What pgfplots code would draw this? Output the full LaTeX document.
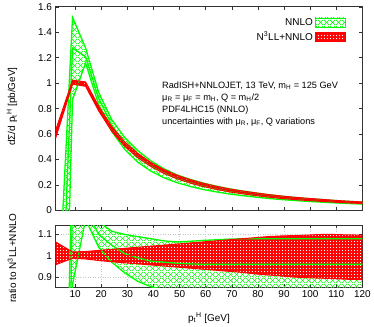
\documentclass[border=0pt]{standalone}
\usepackage{fontspec}
\setmainfont{Liberation Sans}
\usepackage{pgfplots}
\usepackage{pgfplotstable}
\pgfplotsset{compat=1.18}
\usepgfplotslibrary{fillbetween}
\usetikzlibrary{patterns.meta}

\tikzdeclarepattern{
  name=xhatch, type=uncolored,
  bounding box={(0,0) and (5.5pt,5.5pt)},
  tile size={(5.5pt,5.5pt)},
  code={
    \draw[line width=0.7pt] (0,0) -- (5.5pt,5.5pt);
    \draw[line width=0.7pt] (0,5.5pt) -- (5.5pt,0);
  }
}
\tikzdeclarepattern{
  name=wdots, type=uncolored,
  bounding box={(0,0) and (3pt,3pt)},
  tile size={(3pt,3pt)},
  code={\fill (1.5pt,1.5pt) circle (0.7pt);}
}

% R: N3LL+NNLO central [pb/GeV]; rlo/rhi: its band / R
% nL nC nU: NNLO lower, central, upper / R
\pgfplotstableread{
x    R      rlo    rhi    nL     nC     nU
2.5  0.59   0.958  1.065  -6.8   -3.47  -1.95
9    1.005  0.988  1.018  0.865  1.27   1.51
14   0.99   0.985  1.020  1.17   1.22   1.29
19   0.80   0.978  1.025  1.04   1.10   1.16
24   0.64   0.972  1.030  0.97   1.05   1.115
29   0.52   0.967  1.035  0.92   1.01   1.10
34   0.43   0.962  1.040  0.88   0.99   1.09
39   0.36   0.957  1.045  0.855  0.975  1.08
44   0.305  0.952  1.050  0.84   0.97   1.07
49   0.262  0.947  1.055  0.83   0.965  1.065
54   0.228  0.942  1.060  0.825  0.962  1.068
59   0.20   0.937  1.065  0.82   0.96   1.072
64   0.177  0.932  1.070  0.82   0.96   1.075
69   0.157  0.927  1.075  0.82   0.96   1.078
74   0.141  0.922  1.080  0.82   0.96   1.08
79   0.127  0.915  1.085  0.82   0.96   1.08
84   0.114  0.910  1.090  0.82   0.96   1.08
89   0.103  0.905  1.093  0.82   0.96   1.08
94   0.094  0.900  1.095  0.82   0.96   1.08
99   0.086  0.897  1.097  0.82   0.96   1.08
104  0.079  0.895  1.100  0.82   0.96   1.08
109  0.072  0.893  1.100  0.82   0.96   1.08
114  0.066  0.890  1.098  0.82   0.96   1.08
120  0.060  0.888  1.097  0.82   0.96   1.08
}\data

\pgfplotsset{
  panel/.style={
    scale only axis, width=307.6pt,
    xmin=2.5, xmax=120,
    xtick={10,20,...,120},
    tick align=inside, major tick length=3pt,
    axis line style={black!80, line width=0.8pt},
    every tick/.style={black!80, line width=0.6pt},
    tick label style={font=\fontsize{10}{12}\selectfont},
    /pgf/number format/assume math mode=true,
    label style={font=\fontsize{10}{12}\selectfont},
  },
  gline/.style={draw=green, line width=1.3pt},
  rline/.style={draw=red, line width=1.3pt},
}

\begin{document}
\begin{tikzpicture}

\begin{axis}[panel,
  at={(55.7pt,-5pt)}, anchor=north west, height=204pt,
  ymin=0, ymax=1.6,
  ytick={0,0.2,0.4,0.6,0.8,1,1.2,1.4,1.6},
  xticklabels={},
  ylabel={dΣ/d p\textsubscript{t}\textsuperscript{H} [pb/GeV]},
  every axis y label/.style={at={(rel axis cs:-0.142,0.51)}, rotate=90, anchor=center},
  legend style={at={(rel axis cs:0.955,0.965)}, anchor=north east, draw=none, fill=none,
    font=\fontsize{10}{12}\selectfont, row sep=1pt},
  legend cell align=right, legend plot pos=right,
]
\addplot[gline, name path=gU, forget plot] table[x=x, y expr=\thisrow{R}*\thisrow{nU}] {\data};
\addplot[gline, name path=gL, forget plot] table[x=x, y expr=\thisrow{R}*\thisrow{nL}] {\data};
\addplot[pattern={xhatch}, pattern color=green, draw=none, forget plot] fill between[of=gU and gL];
\addplot[gline, forget plot] table[x=x, y expr=\thisrow{R}*\thisrow{nC}] {\data};

\addplot[rline, line width=1pt, name path=rU, forget plot] table[x=x, y expr=\thisrow{R}*\thisrow{rhi}] {\data};
\addplot[rline, line width=1pt, name path=rL, forget plot] table[x=x, y expr=\thisrow{R}*\thisrow{rlo}] {\data};
\addplot[fill=red, draw=none, forget plot] fill between[of=rU and rL];
\addplot[pattern={wdots}, pattern color=white, draw=none, forget plot] fill between[of=rU and rL];
\addplot[rline, forget plot] table[x=x, y=R] {\data};

\addlegendimage{legend image code/.code={
  \draw[green, line width=0.6pt, pattern={xhatch}, pattern color=green] (0pt,-4.5pt) rectangle (30pt,4.5pt);}}
\addlegendentry{NNLO}
\addlegendimage{legend image code/.code={
  \fill[red] (0pt,-4.5pt) rectangle (30pt,4.5pt);
  \fill[pattern={wdots}, pattern color=white] (0pt,-4.5pt) rectangle (30pt,4.5pt);
  \draw[red, line width=0.6pt] (0pt,-4.5pt) rectangle (30pt,4.5pt);}}
\addlegendentry{N\textsuperscript{3}LL+NNLO}

\node[anchor=north west, align=left, font=\fontsize{9.2}{12}\selectfont, inner sep=0pt]
  at (rel axis cs:0.347,0.632) {%
  RadISH+NNLOJET, 13 TeV, m\textsubscript{H} = 125 GeV\\
  μ\textsubscript{R} = μ\textsubscript{F} = m\textsubscript{H}, Q = m\textsubscript{H}/2\\
  PDF4LHC15 (NNLO)\\
  uncertainties with μ\textsubscript{R}, μ\textsubscript{F}, Q variations};
\end{axis}

\begin{axis}[panel,
  at={(55.7pt,-224pt)}, anchor=north west, height=62pt,
  ymin=0.853, ymax=1.143,
  ytick={0.9,1,1.1},
  grid=major, major grid style={gray!45, line width=0.4pt, dash pattern=on 1pt off 1.5pt},
  xlabel={p\textsubscript{t}\textsuperscript{H} [GeV]},
  every axis x label/.style={at={(rel axis cs:0.5,-0.36)}, anchor=north},
  ylabel={ratio to N\textsuperscript{3}LL+NNLO},
  every axis y label/.style={at={(rel axis cs:-0.142,0.47)}, rotate=90, anchor=center},
]
\addplot[gline, name path=hU] table[x=x, y=nU] {\data};
\addplot[gline, name path=hL] table[x=x, y=nL] {\data};
\addplot[pattern={xhatch}, pattern color=green, draw=none] fill between[of=hU and hL];
\addplot[gline] table[x=x, y=nC] {\data};

\addplot[rline, line width=1pt, name path=sU] table[x=x, y=rhi] {\data};
\addplot[rline, line width=1pt, name path=sL] table[x=x, y=rlo] {\data};
\addplot[fill=red, draw=none] fill between[of=sU and sL];
\addplot[pattern={wdots}, pattern color=white, draw=none] fill between[of=sU and sL];
\addplot[rline, line width=0.8pt] table[x=x, y expr=\thisrow{R}/\thisrow{R}] {\data};
\end{axis}
\path (0,0) rectangle (374pt,-322pt);
\end{tikzpicture}
\end{document}
